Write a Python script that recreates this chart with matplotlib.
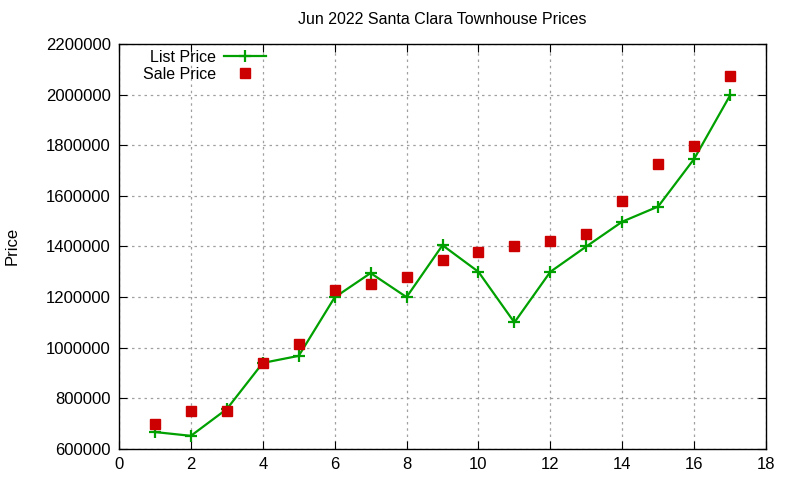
import matplotlib
matplotlib.use("Agg")
import matplotlib.pyplot as plt

plt.rcParams['font.family'] = ['Liberation Sans', 'DejaVu Sans']

# data
x = list(range(1, 18))
list_price = [667000, 652000, 758000, 940000, 968000, 1199000, 1295000, 1200000,
              1405000, 1300000, 1100000, 1300000, 1400000, 1498000, 1558000,
              1746000, 1997000]
sale_price = [700000, 750000, 750000, 940000, 1016000, 1229000, 1250000, 1280000,
              1348000, 1380000, 1400000, 1420000, 1450000, 1578000, 1724000,
              1798000, 2075000]

fig = plt.figure(figsize=(8, 4.8), dpi=100)
ax = fig.add_axes([119 / 800, 1 - 449 / 480, (766 - 119) / 800, (449 - 44) / 480])

ax.plot(x, list_price, color='#00a000', lw=1.6, marker='+', ms=8, mew=1.6,
        label='List Price')
ax.plot(x, sale_price, ls='none', color='#cc0000', marker='s', ms=6.5,
        label='Sale Price')

ax.set_xlim(0, 18)
ax.set_ylim(600000, 2200000)
ax.set_xticks(range(0, 19, 2))
ax.set_yticks(range(600000, 2200001, 200000))
ax.ticklabel_format(style='plain', axis='y', useOffset=False)
ax.tick_params(direction='in', top=True, right=True, labelsize=12, length=6,
               pad=6, colors='black')
ax.grid(True, color='#a0a0a0', ls=(0, (2, 3)), lw=0.9)
for s in ax.spines.values():
    s.set_linewidth(1.0)

fig.text((119 + 766) / 1600, 1 - 20 / 480,
         'Jun 2022 Santa Clara Townhouse Prices', ha='center', va='center',
         fontsize=11.5)
fig.text(12 / 800, 1 - 246 / 480, 'Price', rotation=90, ha='center',
         va='center', fontsize=12)

ax.legend(loc='upper left', markerfirst=False, frameon=False, fontsize=11.5,
          handlelength=2.6, borderaxespad=0.1, labelspacing=0.1,
          bbox_to_anchor=(0.025, 1.005), handletextpad=0.5)

fig.savefig('out.png', dpi=100)
